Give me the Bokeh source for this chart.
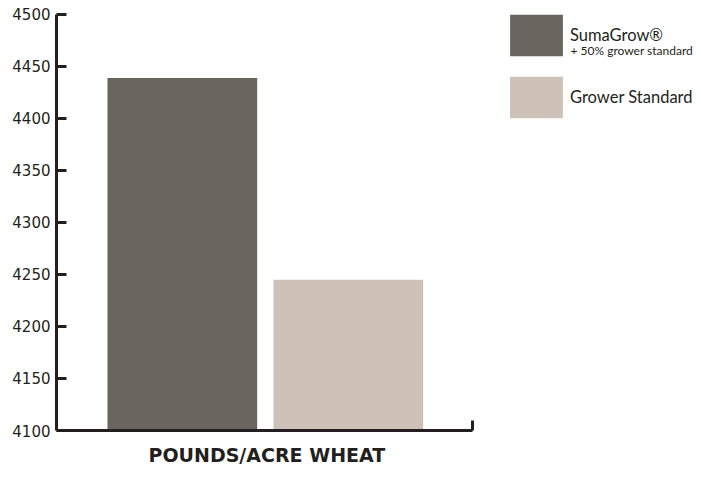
from bokeh.plotting import figure
from bokeh.models import (Range1d, FixedTicker, Legend, LegendItem, Label,
                          ColumnDataSource, LinearAxis, Title)
from bokeh.embed import file_html
from bokeh.resources import INLINE

categories = ["SumaGrow®", "Grower Standard"]
subtitle = "+ 50% grower standard"
values = [4439, 4245]
colors = ["#6b6560", "#cec1b7"]
y_ticks = [4100, 4150, 4200, 4250, 4300, 4350, 4400, 4450, 4500]
x_title = "POUNDS/ACRE WHEAT"

xs = list(range(len(categories)))
x_start, x_axis_end, x_frame_end = -0.758, 1.748, 3.1215
y_min, y_max, y_frame_top = 4100, 4500, 4513.46

p = figure(width=700, height=478, output_backend="svg", toolbar_location=None,
           x_range=Range1d(x_start, x_frame_end), y_range=Range1d(y_min, y_frame_top),
           min_border_left=56, min_border_right=0, min_border_top=0,
           min_border_bottom=48, x_axis_location=None, y_axis_location=None)
p.outline_line_color = None
p.xgrid.visible = False
p.ygrid.visible = False
p.background_fill_color = "white"

renderers = []
for i, (c, v, col) in enumerate(zip(categories, values, colors)):
    src = ColumnDataSource(dict(x=[xs[i]], top=[v]))
    r = p.vbar(x="x", top="top", bottom=y_min, width=0.902, source=src,
               fill_color=col, line_color=None)
    renderers.append(r)

axis_color = "#231f20"
yaxis = LinearAxis(ticker=FixedTicker(ticks=y_ticks), bounds=(y_min, y_max))
yaxis.axis_line_width = 3
yaxis.axis_line_color = axis_color
yaxis.major_tick_line_width = 3
yaxis.major_tick_line_color = axis_color
yaxis.major_tick_in = 10
yaxis.major_tick_out = 0
yaxis.minor_tick_line_color = None
yaxis.major_label_standoff = 6
yaxis.major_label_text_font = "DejaVu Sans"
yaxis.major_label_text_font_size = "15px"
yaxis.major_label_text_color = axis_color
p.add_layout(yaxis, "left")

xaxis = LinearAxis(ticker=FixedTicker(ticks=[x_axis_end]), bounds=(x_start, x_axis_end))
xaxis.major_label_overrides = {x_axis_end: ""}
xaxis.major_label_text_font_size = "1px"
xaxis.major_label_standoff = 10
xaxis.axis_line_width = 3
xaxis.axis_line_color = axis_color
xaxis.major_tick_line_width = 3
xaxis.major_tick_line_color = axis_color
xaxis.major_tick_in = 10
xaxis.major_tick_out = 0
xaxis.minor_tick_line_color = None
p.add_layout(xaxis, "below")

title = Title(text=x_title, align="left", offset=92, standoff=22,
              vertical_align="bottom",
              text_font="DejaVu Sans", text_font_style="bold", text_font_size="19px",
              text_color=axis_color)
p.add_layout(title, "below")

legend = Legend(items=[LegendItem(label=c, renderers=[r]) for c, r in zip(categories, renderers)],
                glyph_width=66, glyph_height=52, spacing=10, padding=0, margin=0,
                label_standoff=1, label_text_font="Lato", label_text_font_size="16.5px",
                label_text_baseline="alphabetic",
                label_text_color=axis_color, border_line_color=None,
                background_fill_alpha=0, location=(447, 307))
p.add_layout(legend)

sub = Label(x=514, y=380, x_units="screen", y_units="screen", text=subtitle,
            text_font="Lato", text_font_size="12px", text_color=axis_color,
            text_baseline="alphabetic")
p.add_layout(sub)

open("out.html", "w").write(file_html(p, INLINE))
